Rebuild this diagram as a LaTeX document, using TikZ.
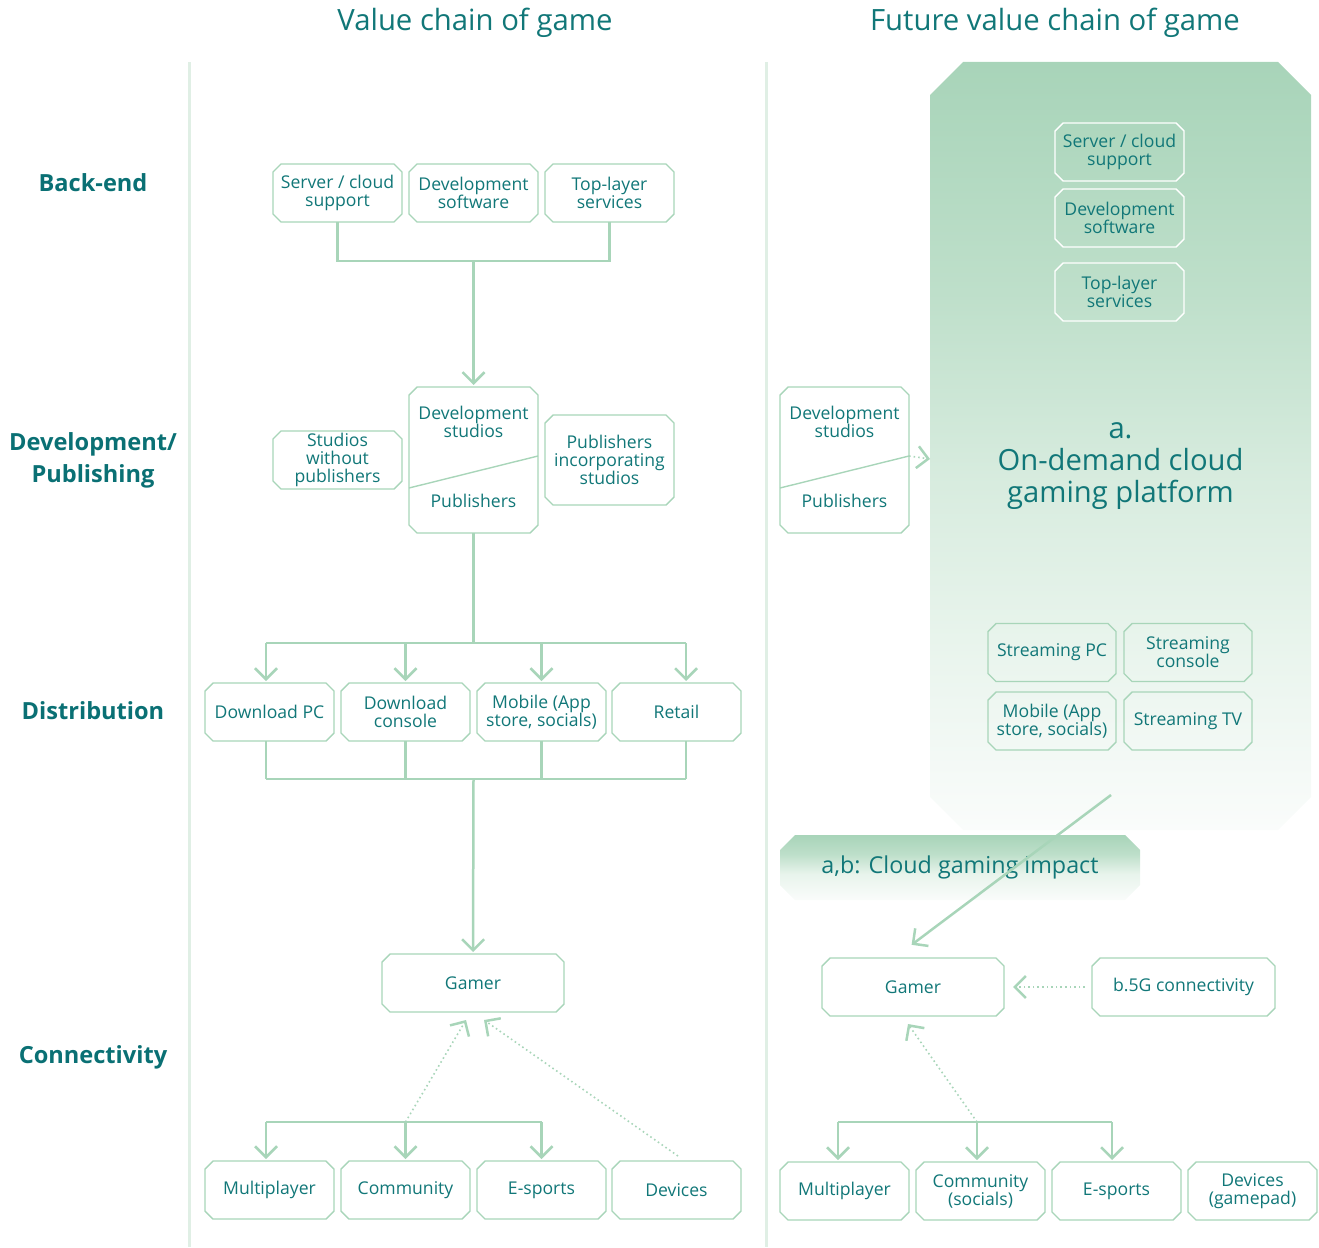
\documentclass[tikz,border=0pt]{standalone}
\usepackage{fontspec}
\setmainfont{Open Sans}
\usetikzlibrary{arrows.meta,calc}

\definecolor{ink}{RGB}{17,119,120}
\definecolor{inkdark}{RGB}{10,112,116}
\definecolor{lineg}{RGB}{168,213,185}
\definecolor{divg}{RGB}{224,239,229}
\definecolor{plata}{RGB}{168,212,185}
\definecolor{platb}{RGB}{190,223,202}
\definecolor{platc}{RGB}{216,236,223}
\definecolor{platd}{RGB}{232,244,236}
\definecolor{plate}{RGB}{250,252,251}

\pgfdeclareverticalshading{platformfade}{100bp}{%
  color(0bp)=(plate); color(25bp)=(plate); color(37.5bp)=(platd);
  color(47.5bp)=(platc); color(60bp)=(platb); color(75bp)=(plata);
  color(100bp)=(plata)}
\pgfdeclareverticalshading{bannerfade}{100bp}{%
  color(0bp)=(plate); color(25bp)=(plate); color(45bp)=(platd);
  color(60bp)=(platb); color(75bp)=(plata); color(100bp)=(plata)}

% outline of a node with cut corners: options, node name, cut size
\newcommand\cutcorners[3]{%
  \path[#1] ($(#2.north west)+(#3,0)$) -- ($(#2.north east)+(-#3,0)$)
    -- ($(#2.north east)+(0,#3)$) -- ($(#2.south east)+(0,-#3)$)
    -- ($(#2.south east)+(-#3,0)$) -- ($(#2.south west)+(#3,0)$)
    -- ($(#2.south west)+(0,-#3)$) -- ($(#2.north west)+(0,#3)$) -- cycle;}

\tikzset{
  boxtext/.style={text=ink, font=\fontsize{17.6}{18}\selectfont, align=center},
  box/.style={boxtext, rectangle, minimum width=129pt, minimum height=58pt,
    inner sep=0pt, outer sep=0pt},
  boxline/.style={draw=lineg, line width=1.4pt},
  wboxline/.style={draw=white, line width=1.4pt},
  link/.style={draw=lineg, line width=2.5pt},
  conn/.style={link, -{Straight Barb[length=11pt,width=22pt,line width=2.5pt]}, shorten >=2pt},
  dotc/.style={draw=lineg, line width=1.6pt, dash pattern=on 1.6pt off 3pt,
    -{Straight Barb[length=11pt,width=22pt,line width=2.5pt]}},
  divider/.style={draw=divg, line width=3pt},
  rowlabel/.style={text=inkdark, font=\bfseries\fontsize{23.6}{32}\selectfont, align=center},
  coltitle/.style={text=ink, font=\fontsize{29.3}{30}\selectfont},
}

\begin{document}
\begin{tikzpicture}[x=1pt,y=-1pt]
\useasboundingbox (0,0) rectangle (1319,1247);

% column titles and row labels
\node[coltitle] (tl) at (475,23) {Value chain of game};
\node[coltitle] (tr) at (1055,23) {Future value chain of game};
\node[rowlabel] (rb) at (93,183) {Back-end};
\node[rowlabel] (rd) at (93,460) {Development/\\Publishing};
\node[rowlabel] (rs) at (93,711) {Distribution};
\node[rowlabel] (rc) at (93,1057) {Connectivity};

% column dividers
\draw[divider] (189,62) -- (189,1247);
\draw[divider] (766,62) -- (766,1247);

%% ---------------- current value chain ----------------
\node[box] (s1) at (337.5,193) {Server / cloud\\support};
\node[box] (s2) at (473.5,193) {Development\\software};
\node[box] (s3) at (609.5,193) {Top-layer\\services};

\node[box] (swp) at (337.5,460) {Studios\\without\\publishers};
\node[box, minimum height=146pt] (dsp) at (473.5,460) {};
\node[boxtext] (dspa) at (473.5,422) {Development\\studios};
\node[boxtext] (dspb) at (473.5,501) {Publishers};
\draw[draw=lineg, line width=1.4pt] ($(dsp.west)+(0,28)$) -- ($(dsp.east)+(0,-4)$);
\node[box, minimum height=90pt] (pis) at (609.5,460) {Publishers\\incorporating\\studios};

\coordinate (bk) at ($(s1.south)!0.5!(s3.south)+(0,39)$);
\draw[link] (s1.south) -- ++(0,39) -| (s3.south);
\draw[conn] (bk) -- (dsp.north);

\node[box] (d1) at (269.5,712) {Download PC};
\node[box] (d2) at (405.5,712) {Download\\console};
\node[box] (d3) at (541.5,712) {Mobile (App\\store, socials)};
\node[box] (d4) at (676.5,712) {Retail};

\coordinate (dj) at (473.5,643);
\coordinate (t1) at (266,643);
\coordinate (t2) at (405.5,643);
\coordinate (t3) at (541.5,643);
\coordinate (t4) at (686,643);
\draw[link] (dsp.south) -- (dj);
\draw[link] (t1) -- (t4);
\foreach \t/\d in {t1/d1,t2/d2,t3/d3,t4/d4}
  \draw[conn] (\t) -- (\t |- \d.north);

\coordinate (b1) at (266,779);
\coordinate (b2) at (405.5,779);
\coordinate (b3) at (541.5,779);
\coordinate (b4) at (686,779);
\coordinate (bj) at (473.5,779);
\foreach \b/\d in {b1/d1,b2/d2,b3/d3,b4/d4}
  \draw[link] (\b |- \d.south) -- (\b);
\draw[link] (b1) -- (b4);

\node[box, minimum width=182pt] (gL) at (473,983) {Gamer};
\draw[conn] (bj) -- (gL.north);

\node[box] (c1) at (269.5,1190) {Multiplayer};
\node[box] (c2) at (405.5,1190) {Community};
\node[box] (c3) at (541.5,1190) {E-sports};
\node[box] (c4) at (676.5,1190) {Devices};

\coordinate (k1) at (266,1122);
\coordinate (k2) at (405.5,1122);
\coordinate (k3) at (541.5,1122);
\draw[link] (k1) -- (k3);
\foreach \k/\c in {k1/c1,k2/c2,k3/c3}
  \draw[conn] (\k) -- (\k |- \c.north);
\draw[dotc] (k2) -- ($(gL.south)+(-7,8)$);
\draw[dotc] ($(c4.north)+(1.5,-5)$) -- ($(gL.south)+(11,8)$);

\foreach \n in {s1,s2,s3,swp,dsp,pis,d1,d2,d3,d4,gL,c1,c2,c3,c4}
  \cutcorners{boxline}{\n}{8};

%% ---------------- future value chain ----------------
\node[rectangle, minimum width=381pt, minimum height=768pt, inner sep=0pt, outer sep=0pt]
  (plat) at (1120.5,446) {};
\cutcorners{shading=platformfade}{plat}{33};

\node[box] (p1) at (1119.5,152) {Server / cloud\\support};
\node[box] (p2) at (1119.5,218) {Development\\software};
\node[box] (p3) at (1119.5,292) {Top-layer\\services};
\foreach \n in {p1,p2,p3}
  \cutcorners{wboxline}{\n}{8};

\node[text=ink, font=\fontsize{29.2}{32}\selectfont, align=center] (odc) at (1120.5,466)
  {a.\\On-demand cloud\\gaming platform};

\node[box, minimum width=128pt] (q1) at (1052,652.5) {Streaming PC};
\node[box, minimum width=128pt] (q2) at (1188,652.5) {Streaming\\console};
\node[box, minimum width=128pt] (q3) at (1052,721) {Mobile (App\\store, socials)};
\node[box, minimum width=128pt] (q4) at (1188,721) {Streaming TV};

\node[box, minimum height=146pt] (dsr) at (844.5,460) {};
\node[boxtext] (dsra) at (844.5,422) {Development\\studios};
\node[boxtext] (dsrb) at (844.5,501) {Publishers};
\draw[draw=lineg, line width=1.4pt] ($(dsr.west)+(0,28)$) -- ($(dsr.east)+(0,-4)$);
\draw[dotc] ($(dsr.east)+(0,-4)$) -- ($(plat.west)+(0,13)$);

\node[rectangle, minimum width=360pt, minimum height=65pt, inner sep=0pt, outer sep=0pt]
  (ban) at (960,867.5) {};
\cutcorners{shading=bannerfade}{ban}{15};
\node[text=ink, font=\fontsize{23.3}{25}\selectfont] (bant) at (ban.center)
  {a,b: Cloud gaming impact};

\node[box, minimum width=182pt] (gR) at (913,987) {Gamer};
\node[box, minimum width=183pt] (g5) at (1183.5,987) {b.5G connectivity};

\coordinate (pl) at (1111,795);
\draw[conn] (pl) -- ($(gR.north)+(-3,-12)$);
\draw[dotc] ($(g5.west)+(-7,0)$) -- ($(gR.east)+(9,0)$);

\node[box] (e1) at (844.5,1191) {Multiplayer};
\node[box] (e2) at (980.5,1191) {Community\\(socials)};
\node[box] (e3) at (1116.5,1191) {E-sports};
\node[box] (e4) at (1252.5,1191) {Devices\\(gamepad)};

\coordinate (m1) at (838,1122);
\coordinate (m2) at (977,1122);
\coordinate (m3) at (1112,1122);
\draw[link] (m1) -- (m3);
\foreach \m/\e in {m1/e1,m2/e2,m3/e3}
  \draw[conn] (\m) -- (\m |- \e.north);
\draw[dotc] (m2) -- ($(gR.south)+(-5,8)$);

\foreach \n in {q1,q2,q3,q4,dsr,gR,g5,e1,e2,e3,e4}
  \cutcorners{boxline}{\n}{8};
\end{tikzpicture}
\end{document}
